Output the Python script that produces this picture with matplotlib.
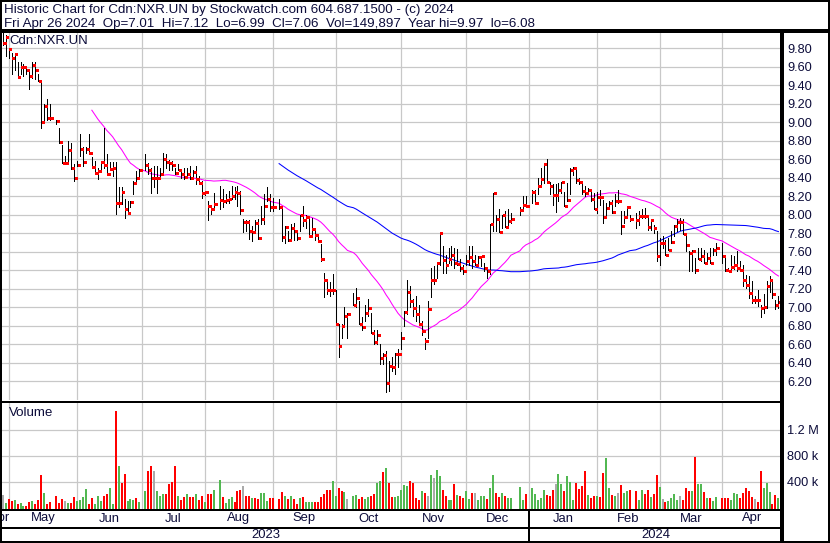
import numpy as np
import pandas as pd
import matplotlib
matplotlib.use("Agg")
import matplotlib.pyplot as plt
from matplotlib.lines import Line2D
from matplotlib.ticker import FormatStrFormatter
from matplotlib.transforms import blended_transform_factory

plt.rcParams['font.family'] = ['Liberation Sans', 'DejaVu Sans']

# trading days on the chart (TSX); holidays keep an empty slot on the weekday axis
first_day = "2023-04-27"
last_day = "2024-04-26"
axis_origin = "2023-04-26"
holidays = ["2023-05-22", "2023-07-03", "2023-08-07", "2023-09-04", "2023-10-09",
            "2023-12-25", "2023-12-26", "2024-01-01", "2024-02-19", "2024-03-29"]

# daily high / low / close
high = [
    # Apr-May 2023
    9.97, 9.94, 9.80, 9.75, 9.74, 9.65, 9.65, 9.63, 9.59, 9.57, 9.65, 9.65,
    9.52, 9.43, 9.20, 9.25, 9.20, 9.02, 8.94, 8.75, 8.64, 8.80, 8.78, 8.55,
    # Jun
    8.58, 8.87, 8.73, 8.73, 8.87, 8.62, 8.58, 8.51, 8.58, 8.94, 8.66, 8.57,
    8.57, 8.57, 8.30, 8.30, 8.17, 8.15, 8.15, 8.37, 8.47, 8.50,
    # Jul
    8.66, 8.56, 8.51, 8.53, 8.53, 8.51, 8.67, 8.66, 8.59, 8.58, 8.51, 8.55,
    8.50, 8.51, 8.51, 8.53, 8.48, 8.53, 8.42, 8.37,
    # Aug
    8.26, 8.15, 8.08, 8.24, 8.31, 8.28, 8.22, 8.26, 8.31, 8.30, 8.31, 8.26,
    7.95, 7.94, 7.94, 7.88, 7.94, 7.95, 8.10, 8.23, 8.30, 8.23,
    # Sep
    8.18, 8.17, 8.09, 7.88, 7.82, 7.90, 7.91, 7.84, 8.00, 8.09, 8.00, 7.95,
    7.97, 7.84, 7.77, 7.68, 7.37, 7.28, 7.27, 7.36,
    # Oct
    7.19, 6.82, 6.82, 7.00, 6.94, 7.16, 7.21, 7.07, 6.89, 7.03, 7.09, 6.94,
    6.76, 6.75, 6.60, 6.51, 6.53, 6.42, 6.46, 6.51, 6.55,
    # Nov
    6.73, 6.96, 7.29, 7.23, 7.09, 7.12, 7.03, 6.85, 6.67, 7.07, 7.43, 7.45,
    7.48, 7.81, 7.66, 7.57, 7.64, 7.66, 7.64, 7.63, 7.52, 7.46,
    # Dec
    7.57, 7.66, 7.66, 7.57, 7.55, 7.55, 7.48, 7.43, 7.90, 8.24, 8.00, 8.06,
    8.00, 8.04, 8.06, 8.02, 8.08, 8.20, 8.20,
    # Jan 2024
    8.27, 8.27, 8.40, 8.51, 8.56, 8.60, 8.36, 8.33, 8.33, 8.34, 8.36, 8.25,
    8.34, 8.51, 8.52, 8.51, 8.40, 8.33, 8.31, 8.29, 8.27, 8.24,
    # Feb
    8.25, 8.27, 8.16, 8.13, 8.15, 8.16, 8.22, 8.27, 8.04, 8.04, 8.09, 8.00,
    8.02, 8.04, 8.06, 8.07, 8.00, 7.95, 7.89, 7.82,
    # Mar
    7.75, 7.77, 7.73, 7.75, 7.82, 7.89, 7.95, 7.97, 7.95, 7.79, 7.61, 7.62,
    7.53, 7.64, 7.64, 7.62, 7.59, 7.64, 7.64, 7.70,
    # Apr
    7.70, 7.55, 7.43, 7.57, 7.55, 7.61, 7.50, 7.46, 7.35, 7.34, 7.28, 7.12,
    7.19, 7.03, 7.14, 7.28, 7.34, 7.30, 7.08, 7.12,
]
low = [
    9.84, 9.72, 9.70, 9.52, 9.56, 9.48, 9.52, 9.50, 9.52, 9.36, 9.48, 9.47,
    9.45, 8.94, 9.02, 9.03, 9.03, 8.98, 8.78, 8.56, 8.55, 8.58, 8.49, 8.37,
    8.53, 8.64, 8.53, 8.67, 8.66, 8.51, 8.44, 8.39, 8.49, 8.51, 8.44, 8.48,
    8.42, 8.01, 8.08, 8.12, 7.97, 8.01, 8.08, 8.22, 8.35, 8.42,
    8.48, 8.44, 8.24, 8.30, 8.24, 8.40, 8.44, 8.51, 8.48, 8.48, 8.44, 8.48,
    8.40, 8.39, 8.40, 8.39, 8.40, 8.33, 8.33, 8.18,
    8.21, 7.94, 8.01, 8.08, 8.06, 8.08, 8.13, 8.13, 8.17, 8.17, 8.10, 8.01,
    7.81, 7.83, 7.74, 7.72, 7.83, 7.74, 7.90, 7.90, 8.15, 8.04,
    8.04, 8.06, 7.72, 7.70, 7.72, 7.73, 7.73, 7.73, 7.82, 7.88, 7.86, 7.77,
    7.77, 7.73, 7.72, 7.50, 7.11, 7.14, 7.12, 7.14,
    6.82, 6.46, 6.67, 6.82, 6.67, 7.03, 7.00, 6.82, 6.76, 6.85, 6.91, 6.72,
    6.60, 6.60, 6.39, 6.39, 6.08, 6.10, 6.31, 6.28, 6.35,
    6.55, 6.80, 6.93, 7.00, 6.91, 6.85, 6.82, 6.70, 6.55, 6.67, 7.11, 7.25,
    7.32, 7.46, 7.37, 7.37, 7.48, 7.46, 7.43, 7.46, 7.39, 7.36,
    7.46, 7.46, 7.43, 7.46, 7.46, 7.45, 7.39, 7.32, 7.36, 7.82, 7.82, 7.81,
    7.86, 7.87, 7.88, 7.91, 8.00, 8.04, 8.09,
    8.13, 8.13, 8.22, 8.31, 8.34, 8.34, 8.22, 8.11, 8.03, 8.15, 8.24, 8.09,
    8.15, 8.22, 8.43, 8.34, 8.33, 8.22, 8.20, 8.22, 8.15, 8.06,
    8.02, 8.11, 7.91, 8.00, 8.06, 8.02, 8.09, 8.13, 7.79, 7.91, 7.97, 7.93,
    7.86, 7.89, 7.97, 7.97, 7.84, 7.84, 7.80, 7.50,
    7.46, 7.64, 7.57, 7.62, 7.70, 7.77, 7.82, 7.84, 7.79, 7.61, 7.39, 7.39,
    7.37, 7.52, 7.50, 7.48, 7.48, 7.48, 7.57, 7.57,
    7.48, 7.39, 7.39, 7.39, 7.41, 7.39, 7.39, 7.23, 7.21, 7.10, 7.05, 7.05,
    7.01, 6.90, 6.94, 6.99, 7.17, 7.10, 6.98, 6.99,
]
close = [
    9.86, 9.92, 9.79, 9.69, 9.74, 9.49, 9.60, 9.60, 9.56, 9.50, 9.62, 9.57,
    9.45, 9.00, 9.18, 9.05, 9.05, 9.01, 8.79, 8.56, 8.56, 8.70, 8.51, 8.40,
    8.54, 8.71, 8.57, 8.71, 8.67, 8.52, 8.45, 8.47, 8.57, 8.54, 8.44, 8.49,
    8.51, 8.13, 8.13, 8.25, 8.06, 8.02, 8.14, 8.34, 8.40, 8.48,
    8.54, 8.48, 8.40, 8.40, 8.40, 8.44, 8.60, 8.57, 8.56, 8.54, 8.45, 8.48,
    8.44, 8.41, 8.44, 8.40, 8.46, 8.39, 8.34, 8.24,
    8.25, 8.09, 8.06, 8.12, 8.16, 8.15, 8.16, 8.17, 8.20, 8.25, 8.24, 8.05,
    7.92, 7.92, 7.82, 7.81, 7.91, 7.75, 7.95, 8.09, 8.17, 8.08,
    8.08, 8.08, 7.76, 7.87, 7.73, 7.86, 7.82, 7.75, 8.00, 7.94, 7.98, 7.77,
    7.85, 7.78, 7.72, 7.52, 7.29, 7.19, 7.19, 7.19,
    6.82, 6.58, 6.80, 6.91, 6.93, 7.03, 7.10, 6.82, 6.79, 6.94, 6.99, 6.72,
    6.63, 6.70, 6.45, 6.48, 6.18, 6.37, 6.35, 6.49, 6.50,
    6.67, 6.95, 7.17, 7.07, 6.99, 6.93, 6.82, 6.74, 6.64, 6.98, 7.30, 7.30,
    7.48, 7.80, 7.51, 7.46, 7.52, 7.57, 7.48, 7.47, 7.42, 7.39,
    7.50, 7.54, 7.50, 7.46, 7.54, 7.55, 7.43, 7.39, 7.90, 8.24, 7.96, 7.81,
    8.00, 7.87, 7.93, 7.96, 8.05, 8.11, 8.09,
    8.25, 8.13, 8.31, 8.39, 8.55, 8.35, 8.31, 8.21, 8.21, 8.27, 8.35, 8.10,
    8.16, 8.48, 8.51, 8.38, 8.35, 8.26, 8.24, 8.27, 8.17, 8.06,
    8.19, 8.19, 7.98, 8.07, 8.13, 8.03, 8.15, 8.15, 7.88, 7.98, 8.08, 7.95,
    7.94, 7.99, 7.99, 7.99, 7.87, 7.94, 7.86, 7.55,
    7.69, 7.70, 7.57, 7.62, 7.71, 7.88, 7.92, 7.92, 7.79, 7.67, 7.59, 7.61,
    7.40, 7.52, 7.56, 7.48, 7.53, 7.48, 7.62, 7.64,
    7.56, 7.40, 7.39, 7.44, 7.46, 7.42, 7.40, 7.29, 7.24, 7.15, 7.08, 7.08,
    7.08, 6.99, 7.00, 7.23, 7.30, 7.14, 7.02, 7.06,
]

# daily volume in thousands of units
volume_k = [
    195, 77, 133, 103, 118, 62, 77, 26, 31, 92, 103, 62, 123, 503, 226, 62,
    87, 179, 77, 133, 103, 77, 77, 169,
    103, 118, 159, 287, 62, 154, 62, 179, 103, 179, 210, 303, 62, 1492, 641,
    385, 518, 103, 128, 118, 154, 87,
    256, 564, 641, 564, 256, 185, 205, 205, 364, 395, 641, 185, 118, 164, 210,
    169, 169, 205, 118, 185,
    92, 210, 210, 272, 426, 164, 77, 128, 169, 92, 256, 272, 333, 185, 185,
    154, 154, 128, 226, 226, 103, 154,
    154, 133, 246, 185, 133, 179, 133, 62, 154, 169, 87, 92, 92, 92, 92, 169,
    205, 272, 272, 415,
    185, 308, 256, 246, 133, 179, 195, 133, 164, 133, 169, 185, 215, 379, 415,
    549, 615, 385, 169, 169, 185,
    272, 349, 338, 415, 374, 144, 118, 256, 231, 185, 503, 462, 579, 492, 272,
    185, 118, 113, 359, 195, 185, 154,
    256, 133, 231, 231, 118, 185, 179, 133, 308, 503, 221, 169, 231, 179, 154,
    154, 323, 118, 210,
    308, 210, 118, 154, 272, 195, 179, 272, 359, 518, 364, 256, 487, 390, 118,
    385, 287, 338, 564, 195, 154, 185,
    185, 169, 533, 769, 308, 195, 185, 226, 349, 226, 256, 272, 256, 118, 272,
    210, 272, 169, 205, 503,
    318, 133, 92, 103, 154, 210, 118, 179, 118, 308, 256, 256, 785, 364, 364,
    246, 154, 154, 103, 169,
    144, 144, 144, 118, 226, 210, 154, 231, 308, 256, 169, 133, 92, 564, 308,
    379, 246, 62, 195, 150,
]

# day direction shown by the volume colour: g up, r down, n unchanged
updown = ("ngrrgrggrrgrrrgrrrrrngrr" "ggggrrgggrrggrgrrgggrg" "grrngggrrrrgrrgrrgrr"
          "grrggrgggrrrnrrgrrgggr" "rrrgrgrrgrgggrrrrrrg" "grrgnggrrggrrggrgrrgg"
          "gggrrrrgrngnggrrggrgrr" "ggrngggrggrrgrggggr" "gggggrrrnggrgggrrrrgrr"
          "grrggrgnrggrrggrrgrr" "gnrggggnrrrgrggrgrgg" "rrrgggrrrrrnrrgggrrg")

month_names = ["Apr", "May", "Jun", "Jul", "Aug", "Sep", "Oct", "Nov", "Dec",
               "Jan", "Feb", "Mar", "Apr"]
price_ticks = [6.2, 6.4, 6.6, 6.8, 7.0, 7.2, 7.4, 7.6, 7.8, 8.0, 8.2, 8.4, 8.6,
               8.8, 9.0, 9.2, 9.4, 9.6, 9.8]
vol_ticks = [400000, 800000, 1200000]
vol_labels = ["400 k", "800 k", "1.2 M"]

title1 = "Historic Chart for Cdn:NXR.UN by Stockwatch.com 604.687.1500 - (c) 2024"
title2 = ("Fri Apr 26 2024  Op=7.01  Hi=7.12  Lo=6.99  Cl=7.06  "
          "Vol=149,897  Year hi=9.97  lo=6.08")

# ---- positions on the weekday axis ----
days = pd.bdate_range(first_day, last_day)
days = days[~days.isin(pd.to_datetime(holidays))]
slot = np.busday_count(axis_origin, days.values.astype("datetime64[D]"))

month_starts = pd.date_range("2023-05-01", "2024-04-01", freq="BMS")
month_lines = np.busday_count(axis_origin, month_starts.values.astype("datetime64[D]"))

close_s = pd.Series(close)
ma30 = close_s.rolling(30).mean()
ma90 = close_s.rolling(90).mean()

W, H = 830, 543
txt = "#0c0c3a"
gridc = "#c8c8c8"
xlo, xhi = 0.77, 263.2

fig = plt.figure(figsize=(W / 100, H / 100), dpi=100)


def fx(x):
    return x / W


def fy(y):
    return 1 - y / H


def line(x0, y0, x1, y1, lw):
    fig.add_artist(Line2D([fx(x0), fx(x1)], [fy(y0), fy(y1)], color="black",
                          lw=lw * 0.72, solid_capstyle="butt", antialiased=False))


# price panel
ax = fig.add_axes([fx(2), fy(400), 780 / W, 369 / H])
ax.set_xlim(xlo, xhi)
ax.set_ylim(5.998, 9.987)
for s in ax.spines.values():
    s.set_visible(False)
ax.set_xticks(month_lines)
ax.set_yticks(price_ticks)
ax.grid(True, color=gridc, lw=0.9, zorder=0)
ax.set_axisbelow(True)
ax.tick_params(axis="x", length=0, labelbottom=False)
ax.yaxis.tick_right()
ax.yaxis.set_major_formatter(FormatStrFormatter("%.2f"))
ax.tick_params(axis="y", length=0, pad=3.8, labelsize=9.2, labelcolor=txt)

ax.plot(slot, ma30, color="#ff00ff", lw=0.75, zorder=2)
ax.plot(slot, ma90, color="#0000ff", lw=0.75, zorder=2)
ax.vlines(slot, low, high, colors="black", lw=0.72, zorder=3, antialiased=False)
ax.hlines(close, slot + 0.2, slot + 0.95, colors="#ff0000", lw=1.8, zorder=4,
          antialiased=False)

# volume panel
vax = fig.add_axes([fx(2), fy(509), 780 / W, 107 / H])
vax.set_xlim(xlo, xhi)
vbottom = -20000
vax.set_ylim(vbottom, 1626000)
for s in vax.spines.values():
    s.set_visible(False)
vax.set_xticks(month_lines)
vax.set_yticks(vol_ticks)
vax.set_yticklabels(vol_labels)
vax.grid(True, color=gridc, lw=0.9, zorder=0)
vax.set_axisbelow(True)
vax.tick_params(axis="x", length=0, labelbottom=False)
vax.yaxis.tick_right()
vax.tick_params(axis="y", length=0, pad=3.8, labelsize=9.2, labelcolor=txt)
cmap = {"g": "#52b852", "r": "#ff0000", "n": "#aaaaaa"}
vol = np.array(volume_k) * 1000.0
vax.bar(slot, vol - vbottom, bottom=vbottom, width=0.67,
        color=[cmap[c] for c in updown], zorder=2, antialiased=False)

# month and year labels under the volume panel
tr = blended_transform_factory(vax.transData, fig.transFigure)
edges = list(month_lines) + [xhi]
centers = [0.0] + [(edges[i] + edges[i + 1]) / 2 for i in range(len(month_lines))]
for name, c in zip(month_names, centers):
    vax.text(c, fy(518.5), name, transform=tr, ha="center", va="center",
             fontsize=9.4, color=txt, clip_on=False)
jan_line = month_lines[8]
vax.text((xlo + jan_line) / 2, fy(535), "2023", transform=tr, ha="center",
         va="center", fontsize=9.4, color=txt, clip_on=False)
vax.text((jan_line + xhi) / 2, fy(535), "2024", transform=tr, ha="center",
         va="center", fontsize=9.4, color=txt, clip_on=False)

# titles and panel captions
fig.text(fx(4), fy(9.5), title1, ha="left", va="center", fontsize=9.6, color=txt)
fig.text(fx(4), fy(23.5), title2, ha="left", va="center", fontsize=9.6, color=txt)
fig.text(fx(9), fy(41), "Cdn:NXR.UN", ha="left", va="center", fontsize=9.5, color=txt)
fig.text(fx(9), fy(413.5), "Volume", ha="left", va="center", fontsize=9.6, color=txt)

# frame
line(0, 1, W, 1, 2)
line(0, H - 1, W, H - 1, 2)
line(1, 0, 1, H, 2)
line(W - 1.5, 0, W - 1.5, H, 2)
line(0, 31, W, 31, 2.3)
line(0, 400.7, 782, 400.7, 1)
line(0, 402.3, 782, 402.3, 1)
line(0, 509.8, 782, 509.8, 2)
line(0, 527.5, 782, 527.5, 2)
line(781.7, 31, 781.7, H, 2.5)
jan_px = -0.3 + 2.972 * jan_line
line(jan_px, 509.8, jan_px, H, 2)

fig.savefig("out.png", dpi=100)
